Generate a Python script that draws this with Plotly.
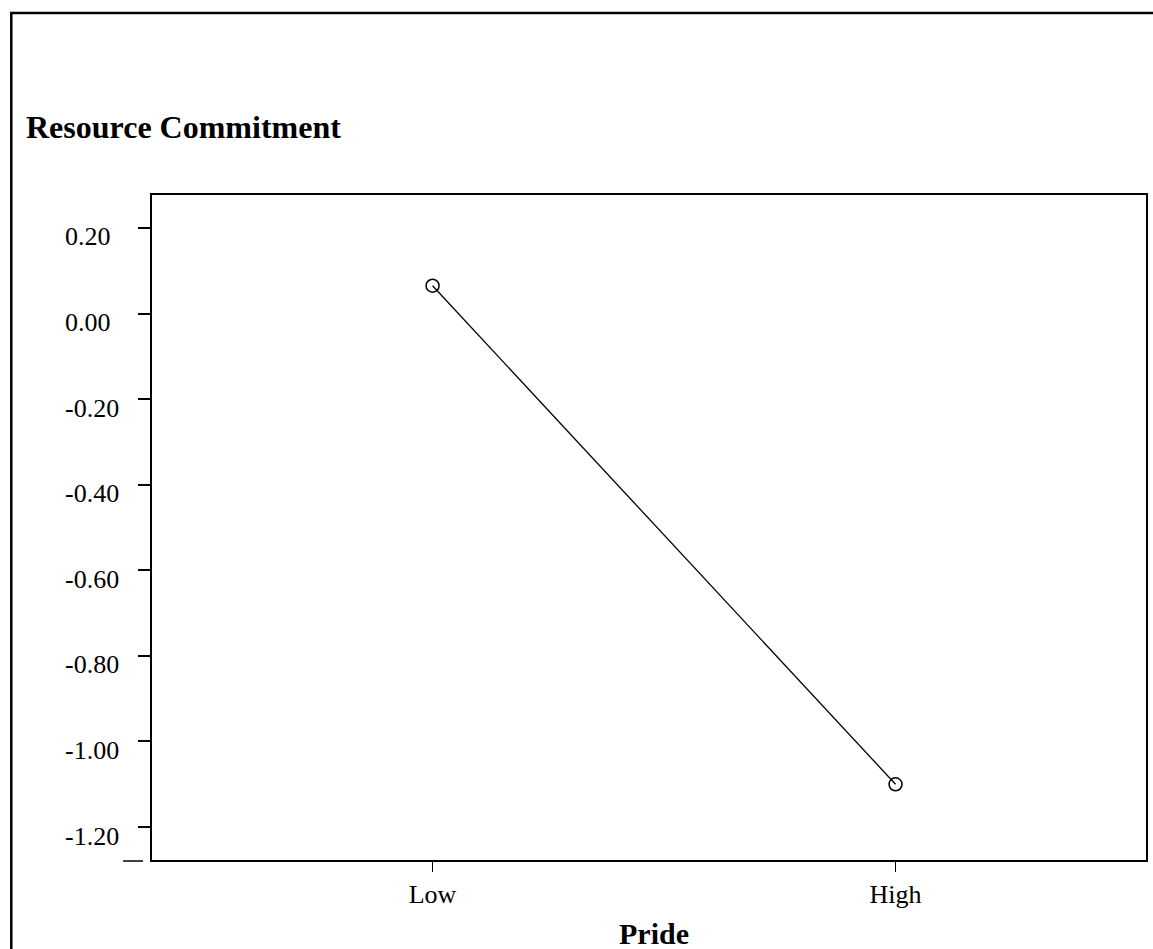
import plotly.graph_objects as go

# Data
categories = ["Low", "High"]
cat_positions = [0, 1]
values = [0.065, -1.10]
y_ticks = [0.20, 0.00, -0.20, -0.40, -0.60, -0.80, -1.00, -1.20]
y_tick_labels = ["0.20", "0.00", "-0.20", "-0.40", "-0.60", "-0.80", "-1.00", "-1.20"]
title_text = "Resource Commitment"
x_title = "Pride"

W, H = 1153, 949
L, R, T, B = 152, 5, 195, 89
PW = W - L - R
PH = H - T - B

def px_x(px):
    return (px - L) / PW

def px_y(py):
    return (H - B - py) / PH

SERIF = "Liberation Serif, Times New Roman, serif"

fig = go.Figure()
fig.add_trace(go.Scatter(
    x=cat_positions, y=values, mode="lines+markers",
    line=dict(color="black", width=1.3),
    marker=dict(symbol="circle-open", size=13, color="black", line=dict(width=1.5, color="black")),
    showlegend=False, hoverinfo="skip",
))

fig.update_layout(
    width=W, height=H,
    margin=dict(l=L, r=R, t=T, b=B),
    paper_bgcolor="white", plot_bgcolor="white",
    font=dict(family=SERIF, color="black", size=26),
    xaxis=dict(
        range=[-0.606, 1.541],
        tickmode="array", tickvals=cat_positions, ticktext=categories,
        ticks="outside", ticklen=10, tickwidth=1.2, tickcolor="black",
        showline=True, linecolor="black", linewidth=2, mirror=True,
        showgrid=False, zeroline=False,
        tickfont=dict(family=SERIF, size=26, color="black"),
    ),
    yaxis=dict(
        range=[-1.277, 0.277],
        tickmode="array", tickvals=y_ticks, ticktext=[""] * len(y_ticks),
        showticklabels=False,
        ticks="outside", ticklen=12, tickwidth=1.5, tickcolor="black",
        showline=True, linecolor="black", linewidth=2, mirror=True,
        showgrid=False, zeroline=False,
    ),
)

# Y tick labels (left-aligned as in the original)
for v, lab in zip(y_ticks, y_tick_labels):
    fig.add_annotation(
        x=px_x(63), xref="paper", xanchor="left",
        y=v, yref="y", yanchor="middle", yshift=-9,
        text=lab, showarrow=False,
        font=dict(family=SERIF, size=26, color="black"),
    )

# Title
fig.add_annotation(
    x=px_x(24), xref="paper", xanchor="left",
    y=px_y(127), yref="paper", yanchor="middle",
    text="<b>" + title_text + "</b>", showarrow=False,
    font=dict(family=SERIF, size=32, color="black"),
)

# X axis title
fig.add_annotation(
    x=px_x(655), xref="paper", xanchor="center",
    y=px_y(933), yref="paper", yanchor="middle",
    text="<b>" + x_title + "</b>", showarrow=False,
    font=dict(family=SERIF, size=30, color="black"),
)

# Outer frame (left and top edges)
fig.add_shape(
    type="path", xref="paper", yref="paper",
    path=f"M {px_x(11)} {px_y(960)} L {px_x(11)} {px_y(13)} L {px_x(1160)} {px_y(13)}",
    line=dict(color="black", width=2.5),
)

# Small extra tick at bottom-left of the axis
fig.add_shape(
    type="line", xref="paper", yref="paper",
    x0=px_x(123), x1=px_x(143), y0=px_y(861), y1=px_y(861),
    line=dict(color="black", width=1.5),
)

fig.write_html("out.html")
